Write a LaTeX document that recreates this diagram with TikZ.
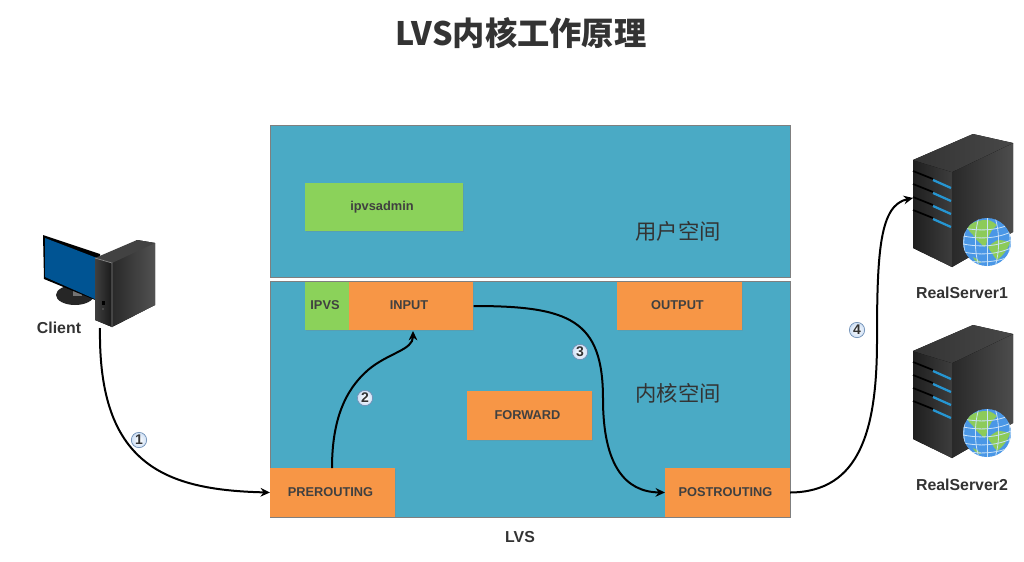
\documentclass[tikz,border=0pt]{standalone}
\usepackage{fontspec}
\setmainfont{Liberation Sans}
\newfontfamily\cjk{Noto Sans CJK SC}
\usetikzlibrary{arrows.meta,shadows}
\definecolor{panelc}{HTML}{4AAAC5}
\definecolor{greenc}{HTML}{8BD25A}
\definecolor{orangec}{HTML}{F79646}
\definecolor{inkc}{HTML}{333333}
\definecolor{boxink}{HTML}{404040}
\definecolor{edgec}{HTML}{7F7F7F}
\definecolor{markc}{HTML}{6F8FB5}
\definecolor{markfill}{HTML}{CFE0F5}
\definecolor{earthc}{HTML}{4A97E6}
\definecolor{landc}{HTML}{8CCB5A}
\definecolor{gridc}{HTML}{C9E2F8}
\definecolor{slotc}{HTML}{2696D2}
\tikzset{
  x=0.75pt,y=-0.75pt,
  panel/.style={draw=edgec,line width=0.6pt,fill=panelc,inner sep=0pt},
  flowbox/.style={fill=orangec,text=boxink,font=\fontsize{9.6}{11}\selectfont\bfseries,inner sep=0pt,minimum height=36.4pt,minimum width=93.5pt,
    drop shadow={shadow xshift=0.8pt,shadow yshift=-0.8pt,opacity=0.25}},
  greenbox/.style={flowbox,fill=greenc},
  caption/.style={text=inkc,font=\fontsize{11.9}{13}\selectfont\bfseries,inner sep=0pt},
  spacelabel/.style={text=inkc,font=\fontsize{16}{18}\selectfont\cjk,inner sep=0pt},
  flow/.style={draw=black,line width=1.5pt,-{Stealth[length=7pt,width=6.5pt]}},
  stepmark/.style={circle,draw=markc,line width=0.5pt,inner color=white,outer color=markfill,text=inkc,font=\fontsize{10.5}{11}\selectfont\bfseries,inner sep=0pt,minimum size=11.5pt},
}
\newcommand{\boxt}[1]{\raisebox{1.2pt}{\kern-3pt #1}}
\newcommand{\serverpic}[1]{%
\begin{scope}[yshift=#1*-0.75pt]
  \fill[left color=black!88,right color=black!76] (913,160) -- (952,172) -- (952,267) -- (913,248) -- cycle;
  \fill[left color=black!84,right color=black!70] (952,172) -- (1013,143) -- (1013,232) -- (952,267) -- cycle;
  \fill[left color=black!80,right color=black!72] (913,160) -- (973,134) -- (1013,143) -- (952,172) -- cycle;
  \foreach \d in {0,13,26,39}{
    \draw[black,line width=1.3pt] (913,171+\d) -- (933,179+\d);
    \draw[slotc,line width=1.7pt] (933,180+\d) -- (951,188+\d);
  }
  \fill[earthc] (987,242) circle[radius=24];
  \begin{scope}
    \clip (987,242) circle[radius=24];
    \fill[landc] (967,228) .. controls (970,224) and (972,223) .. (975,222) .. controls (980,220) and (984,220) .. (988,220) .. controls (992,221) and (995,223) .. (997,225) .. controls (995,227) and (993,229) .. (992,230) .. controls (990,234) and (988,237) .. (987,240) .. controls (987,243) and (986,245) .. (985,247) .. controls (983,246) and (982,245) .. (980,243) .. controls (977,241) and (975,238) .. (973,235) .. controls (971,233) and (969,231) .. (967,228) -- cycle;
    \fill[landc] (988,247) .. controls (991,244) and (994,242) .. (998,240) .. controls (1002,240) and (1006,241) .. (1010,242) .. controls (1009,246) and (1007,249) .. (1005,252) .. controls (1003,255) and (1000,258) .. (997,260) .. controls (995,258) and (993,255) .. (992,253) .. controls (990,251) and (989,249) .. (988,247) -- cycle;
    \fill[landc] (973,257) .. controls (976,258) and (979,260) .. (981,263) .. controls (977,263) and (974,260) .. (973,257) -- cycle;
    \foreach \a in {-16,-8,0,8,16}{
      \draw[gridc,line width=0.6pt] (963,242+\a+2) .. controls (979,247+\a) and (995,247+\a) .. (1011,242+\a-2);
      \draw[gridc,line width=0.6pt] (987+\a,217) .. controls (987+1.6*\a,233) and (987+1.6*\a,251) .. (987+\a,267);
    }
  \end{scope}
\end{scope}}
\begin{document}
\begin{tikzpicture}
\useasboundingbox (0,0) rectangle (1024,561);
\fill[white] (0,0) rectangle (1024,561);

\node[font=\fontsize{24.2}{27}\selectfont\bfseries\cjk,text=inkc,inner sep=0pt] (title) at (521,33) {LVS内核工作原理};

% panels
\node[panel,minimum width=390pt,minimum height=114pt] (userspace) at (530,201) {};
\node[panel,minimum width=390pt,minimum height=177pt] (kernelspace) at (530,399) {};

\node[spacelabel] (userlabel) at (678,231) {用户空间};
\node[spacelabel] (kernellabel) at (678,393) {内核空间};

% boxes
\node[greenbox,minimum width=118.5pt] (ipvsadmin) at (384,207) {\boxt{ipvsadmin}};
\node[greenbox,minimum width=33pt] (ipvs) at (327,306) {\boxt{IPVS}};
\node[flowbox] (input) at (411,306) {\boxt{INPUT}};
\node[flowbox] (output) at (679.5,306) {\boxt{OUTPUT}};
\node[flowbox] (forward) at (529.5,415.5) {\boxt{FORWARD}};
\node[flowbox] (prerouting) at (332.5,492.5) {\boxt{PREROUTING}};
\node[flowbox] (postrouting) at (727.5,492.5) {\boxt{POSTROUTING}};

\node[caption] (lvs) at (520,537) {LVS};
\node[caption] (client) at (59,328) {Client};
\node[caption] (rs1) at (962,293) {RealServer1};
\node[caption] (rs2) at (962,485) {RealServer2};

% client computer
\fill[black!85] (75,295) ellipse[x radius=19,y radius=10];
\fill[black!55] (73,290) -- (82,290) -- (82,296) -- (73,296) -- cycle;
\fill[black] (43,235) -- (100,254) -- (100,302) -- (44,279) -- cycle;
\fill[color={rgb,255:red,0;green,84;blue,147}] (45,238) -- (97,258) -- (97,300) -- (45,277) -- cycle;
\fill[left color=black!84,right color=black!68] (112,263) -- (137,240) -- (155,243) -- (155,305) -- (112,327) -- cycle;
\fill[black!74] (95,258) -- (137,240) -- (155,243) -- (112,263) -- cycle;
\fill[left color=black!75,right color=black!90] (95,258) -- (112,263) -- (112,327) -- (95,320) -- cycle;
\draw[black!45,line width=0.5pt] (95,258) -- (112,263) -- (112,327);
\fill[black] (102,301) rectangle (105,305);
\fill[black!60] (103,309) circle[radius=0.9];

\serverpic{0}
\serverpic{191}

% free ends
\coordinate (clientout) at (100,328);
\coordinate (rs1in) at (913,198);
\coordinate (via2) at (368,370);
\coordinate (via3) at (603,399);
\coordinate (via4) at (877,340);
\coordinate (in2) at (413,331);
\coordinate (pre2) at (332,468);

\draw[flow] (clientout) .. controls (98,465) and (165,490) .. (prerouting.west);
\draw[flow] (pre2) .. controls (332,420) and (345,390) .. (via2) .. controls (388,353) and (413,350) .. (in2);
\draw[flow] (input.east) .. controls (570,306) and (603,320) .. (via3) .. controls (603,465) and (625,492) .. (postrouting.west);
\draw[flow] (postrouting.east) .. controls (860,492) and (877,430) .. (via4) .. controls (877,250) and (880,205) .. (rs1in);

% step marks
\node[stepmark] (m1) at (139,440) {1};
\node[stepmark] (m2) at (365,398) {2};
\node[stepmark] (m3) at (580,352) {3};
\node[stepmark] (m4) at (857,330) {4};
\end{tikzpicture}
\end{document}
